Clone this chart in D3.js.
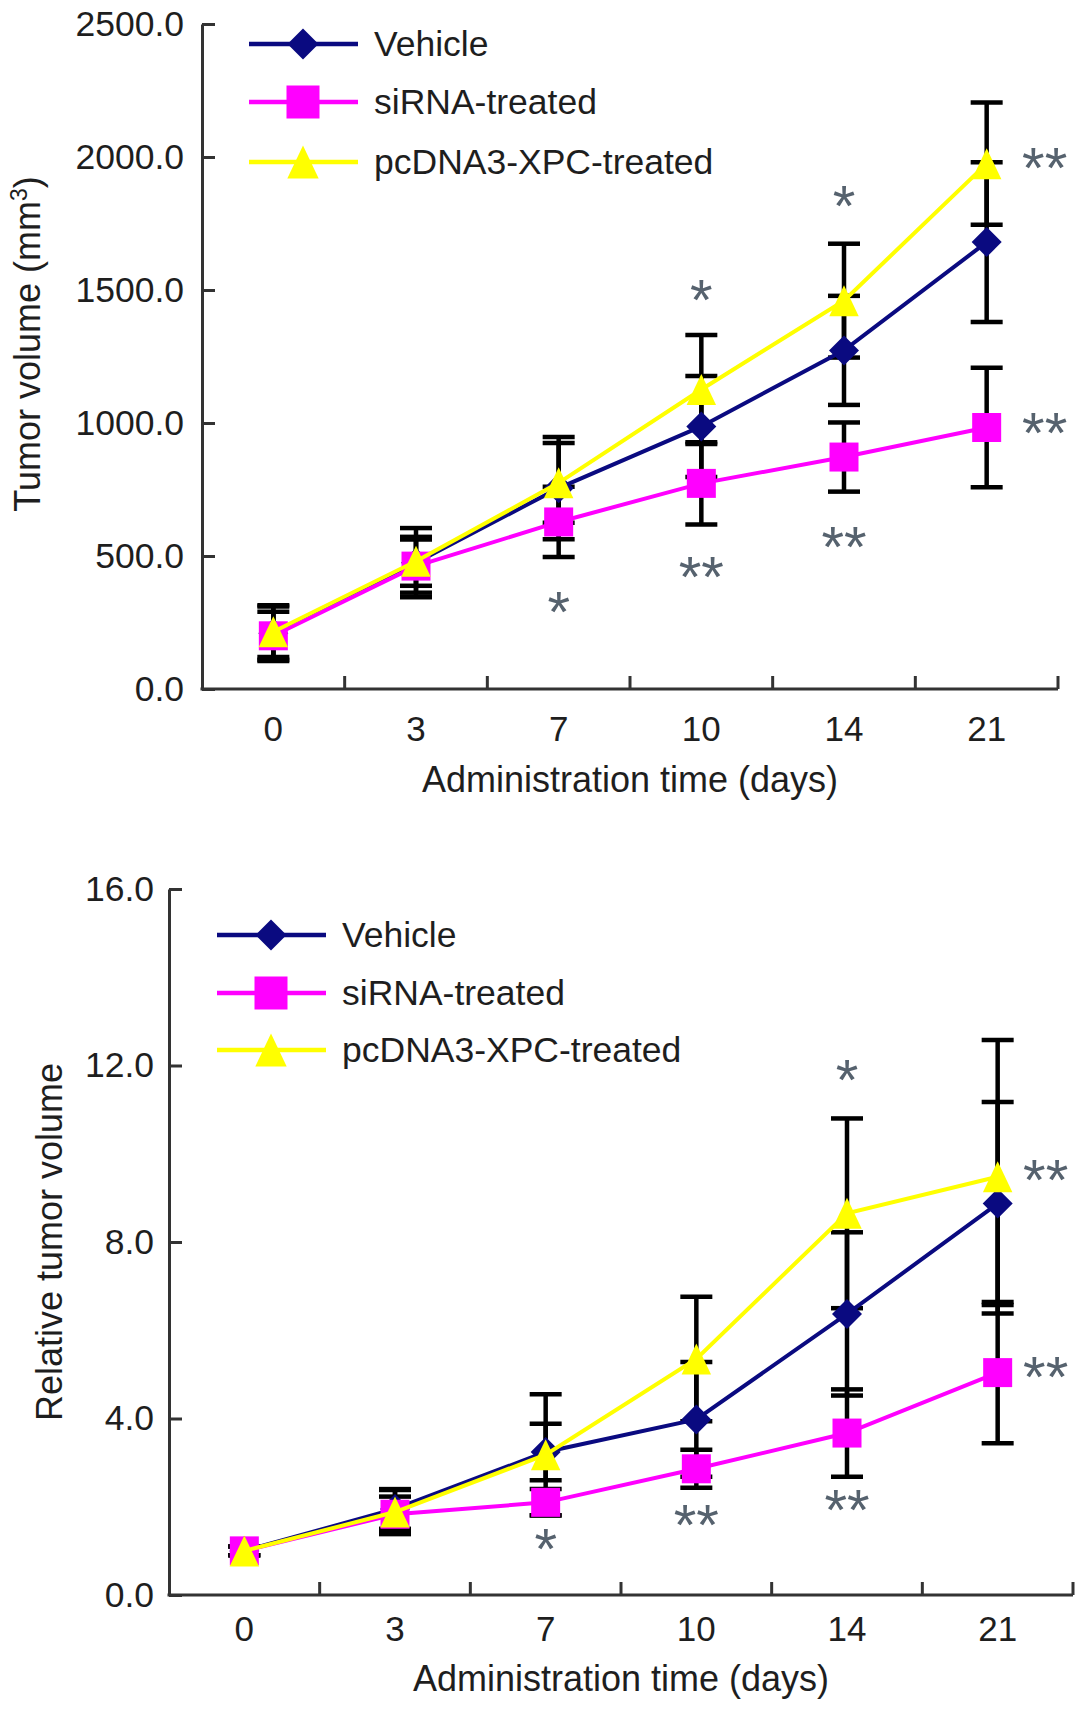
<!DOCTYPE html>
<html>
<head>
<meta charset="utf-8">
<script src="https://cdn.jsdelivr.net/npm/d3@7"></script>
<style>
  body { margin: 0; background: #fff; }
</style>
</head>
<body>
<div id="chart"></div>
<script>
// administration days (categories)
const days = ["0", "3", "7", "10", "14", "21"];

// top panel: tumor volume (mm3), mean and SD
const volVehicle = [210, 475, 755, 987, 1273, 1680];
const volVehicleSd = [105, 130, 192, 190, 205, 300];
const volSirna = [200, 462, 628, 773, 872, 983];
const volSirnaSd = [90, 100, 132, 155, 130, 225];
const volXpc = [215, 480, 775, 1126, 1460, 1975];
const volXpcSd = [95, 92, 150, 205, 214, 230];
const volTicks = [0, 500, 1000, 1500, 2000, 2500];

// bottom panel: relative tumor volume
const relVehicle = [1.0, 1.95, 3.24, 3.98, 6.37, 8.87];
const relVehicleSd = [0.1, 0.45, 0.64, 1.3, 1.85, 2.3];
const relSirna = [1.0, 1.83, 2.1, 2.86, 3.67, 5.04];
const relSirnaSd = [0.1, 0.4, 0.3, 0.43, 0.99, 1.6];
const relXpc = [1.0, 1.88, 3.18, 5.35, 8.65, 9.48];
const relXpcSd = [0.1, 0.5, 1.37, 1.41, 2.15, 3.1];
const relTicks = [0, 4, 8, 12, 16];

// significance marks: day and the value level they sit at
const starsVol = [
  { day: "7", at: 338, mark: "*" },
  { day: "10", at: 1511, mark: "*" },
  { day: "10", at: 470, mark: "**" },
  { day: "14", at: 1865, mark: "*" },
  { day: "14", at: 583, mark: "**" },
  { day: "21", at: 2008, mark: "**" },
  { day: "21", at: 1011, mark: "**" }
];
const starsRel = [
  { day: "7", at: 1.34, mark: "*" },
  { day: "10", at: 1.88, mark: "**" },
  { day: "14", at: 11.97, mark: "*" },
  { day: "14", at: 2.24, mark: "**" },
  { day: "21", at: 9.7, mark: "**" },
  { day: "21", at: 5.24, mark: "**" }
];

const seriesNames = ["Vehicle", "siRNA-treated", "pcDNA3-XPC-treated"];
const seriesColors = ["#0a0a80", "#ff00ff", "#ffff00"];

// marker shapes
const diamond = {
  draw(ctx, size) {
    const r = Math.sqrt(size) / 2;
    ctx.moveTo(0, -r); ctx.lineTo(r, 0); ctx.lineTo(0, r); ctx.lineTo(-r, 0); ctx.closePath();
  }
};
const tallTriangle = {
  draw(ctx, size) {
    const h = Math.sqrt(size), w = h * 0.95;
    ctx.moveTo(0, -h / 2); ctx.lineTo(w / 2, h / 2); ctx.lineTo(-w / 2, h / 2); ctx.closePath();
  }
};
const seriesSymbols = [diamond, d3.symbolSquare, tallTriangle];
const symbolSizes = [30 * 30, 29 * 29, 31 * 31];
const legendSymbolSizes = [31 * 31, 33 * 33, 33 * 33];

const width = 1087, height = 1711;
const font = "'Liberation Sans', Arial, Helvetica, sans-serif";
const textColor = "#1e1e1e";

const svg = d3.select("#chart")
  .append("svg")
  .attr("width", width)
  .attr("height", height)
  .style("font-family", font);

function drawPanel(cfg) {
  const x = d3.scaleBand().domain(days).range([cfg.left, cfg.right]);
  const y = d3.scaleLinear().domain([0, cfg.yMax]).range([cfg.bottom, cfg.top]);
  const g = svg.append("g");

  const series = seriesNames.map((name, i) => ({
    name, color: seriesColors[i], symbol: seriesSymbols[i], size: symbolSizes[i],
    points: days.map((d, j) => ({ day: d, v: cfg.values[i][j], sd: cfg.sds[i][j] }))
  }));

  // y axis, ticks pointing inwards
  const yAxis = g.append("g")
    .attr("transform", `translate(${cfg.left},0)`)
    .call(d3.axisLeft(y).tickValues(cfg.ticks).tickSizeInner(-13).tickSizeOuter(0)
      .tickPadding(cfg.yPad).tickFormat(d3.format(".1f")));
  yAxis.select(".domain").attr("stroke", "#333").attr("stroke-width", 3);
  yAxis.selectAll(".tick line").attr("stroke", "#333").attr("stroke-width", 3);
  yAxis.selectAll(".tick text").attr("font-size", 35.5).attr("fill", textColor).attr("font-family", font);

  // x axis: labels at band centres, ticks at band edges
  const xAxis = g.append("g")
    .attr("transform", `translate(0,${cfg.bottom})`)
    .call(d3.axisBottom(x).tickSize(0).tickPadding(cfg.xPad));
  xAxis.select(".domain").attr("stroke", "#333").attr("stroke-width", 3)
    .attr("d", `M${cfg.left - 1.5},0H${cfg.right}`);
  xAxis.selectAll(".tick text").attr("font-size", 35).attr("fill", textColor).attr("font-family", font);
  xAxis.selectAll("line.edge")
    .data(days)
    .enter()
    .append("line")
    .attr("class", "edge")
    .attr("x1", d => x(d) + x.bandwidth())
    .attr("x2", d => x(d) + x.bandwidth())
    .attr("y1", 0)
    .attr("y2", -13)
    .attr("stroke", "#333")
    .attr("stroke-width", 3);

  // axis titles
  g.append("text")
    .attr("x", (cfg.left + cfg.right) / 2)
    .attr("y", cfg.xTitleY)
    .attr("text-anchor", "middle")
    .attr("font-size", 36)
    .attr("fill", textColor)
    .text("Administration time (days)");

  const yt = g.append("text")
    .attr("transform", `translate(${cfg.yTitleX},${cfg.yTitleY}) rotate(-90)`)
    .attr("text-anchor", "middle")
    .attr("font-size", 36)
    .attr("fill", textColor);
  cfg.yTitle.forEach(part => {
    const t = yt.append("tspan").text(part.text);
    if (part.sup) t.attr("font-size", 23).attr("dy", -13);
    if (part.after) t.attr("dy", 13);
  });

  const cx = d => x(d) + x.bandwidth() / 2;

  // error bars (under lines and markers)
  const cap = 16;
  series.forEach(s => {
    const eb = g.append("g").attr("stroke", "#000").attr("stroke-width", 4.5);
    s.points.forEach(p => {
      const yHi = y(p.v + p.sd), yLo = y(p.v - p.sd);
      eb.append("line").attr("x1", cx(p.day)).attr("x2", cx(p.day)).attr("y1", yHi).attr("y2", yLo);
      eb.append("line").attr("x1", cx(p.day) - cap).attr("x2", cx(p.day) + cap).attr("y1", yHi).attr("y2", yHi);
      eb.append("line").attr("x1", cx(p.day) - cap).attr("x2", cx(p.day) + cap).attr("y1", yLo).attr("y2", yLo);
    });
  });

  // lines and markers
  const line = d3.line().x(p => cx(p.day)).y(p => y(p.v));
  series.forEach(s => {
    g.append("path")
      .datum(s.points)
      .attr("fill", "none")
      .attr("stroke", s.color)
      .attr("stroke-width", 4)
      .attr("d", line);
    g.append("g")
      .selectAll("path")
      .data(s.points)
      .enter()
      .append("path")
      .attr("transform", p => `translate(${cx(p.day)},${y(p.v)})`)
      .attr("d", d3.symbol().type(s.symbol).size(s.size))
      .attr("fill", s.color);
  });

  // significance asterisks
  const starSize = 58;
  g.append("g")
    .selectAll("text")
    .data(cfg.stars)
    .enter()
    .append("text")
    .attr("x", d => cx(d.day) + (d.day === days[days.length - 1] ? cfg.starShift : 0))
    .attr("y", d => y(d.at) + starSize * 0.575)
    .attr("text-anchor", "middle")
    .attr("font-size", starSize)
    .attr("fill", "#56626e")
    .text(d => d.mark);

  // legend
  const lg = g.append("g").attr("transform", `translate(${cfg.legendX},0)`);
  series.forEach((s, i) => {
    const ry = cfg.legendRows[i];
    lg.append("line")
      .attr("x1", 0).attr("x2", 109)
      .attr("y1", ry).attr("y2", ry)
      .attr("stroke", s.color)
      .attr("stroke-width", 4.5);
    lg.append("path")
      .attr("transform", `translate(54,${ry})`)
      .attr("d", d3.symbol().type(s.symbol).size(legendSymbolSizes[i]))
      .attr("fill", s.color);
    lg.append("text")
      .attr("x", 125)
      .attr("y", ry + 12)
      .attr("font-size", 35.5)
      .attr("fill", textColor)
      .text(s.name);
  });
}

drawPanel({
  left: 202, right: 1058, top: 24, bottom: 689,
  yMax: 2500, ticks: volTicks, yPad: 18, xPad: 27,
  values: [volVehicle, volSirna, volXpc],
  sds: [volVehicleSd, volSirnaSd, volXpcSd],
  xTitleY: 792,
  yTitle: [{ text: "Tumor volume (mm" }, { text: "3", sup: true }, { text: ")", after: true }],
  yTitleX: 40, yTitleY: 344,
  stars: starsVol, starShift: 58,
  legendX: 249, legendRows: [44, 102, 162]
});

drawPanel({
  left: 169, right: 1073, top: 889, bottom: 1595,
  yMax: 16, ticks: relTicks, yPad: 15, xPad: 21,
  values: [relVehicle, relSirna, relXpc],
  sds: [relVehicleSd, relSirnaSd, relXpcSd],
  xTitleY: 1691,
  yTitle: [{ text: "Relative tumor volume" }],
  yTitleX: 62, yTitleY: 1242,
  stars: starsRel, starShift: 48,
  legendX: 217, legendRows: [935, 993, 1050]
});
</script>
</body>
</html>
